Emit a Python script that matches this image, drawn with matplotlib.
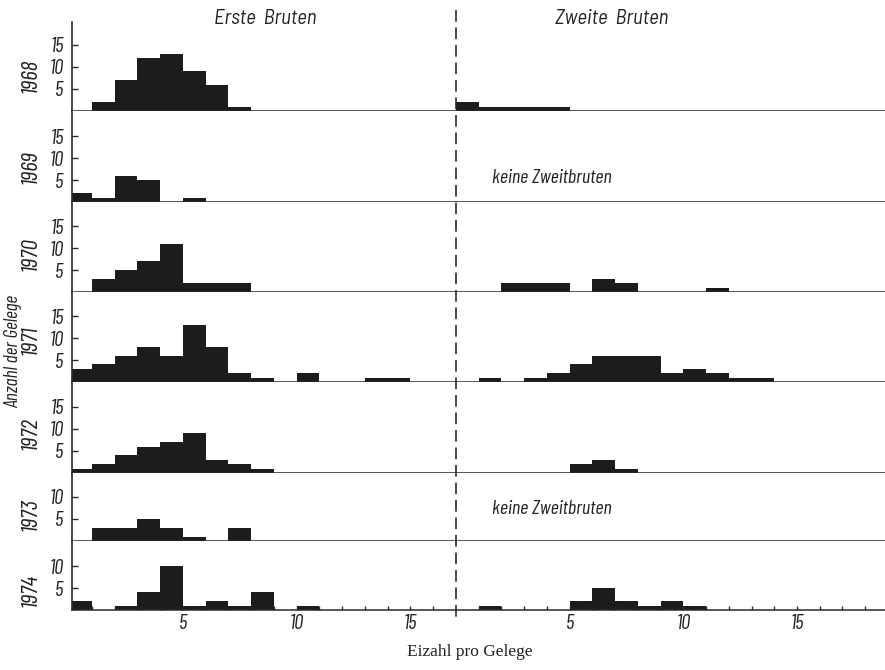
import matplotlib
matplotlib.use("Agg")
import matplotlib.pyplot as plt
from matplotlib.lines import Line2D
from matplotlib.transforms import blended_transform_factory

# Clutch-size distributions (number of clutches per egg count)
years = ["1968", "1969", "1970", "1971", "1972", "1973", "1974"]

first_1968 = [0, 2, 7, 12, 13, 9, 6, 1]
first_1969 = [2, 1, 6, 5, 0, 1]
first_1970 = [0, 3, 5, 7, 11, 2, 2, 2]
first_1971 = [3, 4, 6, 8, 6, 13, 8, 2, 1, 0, 2, 0, 0, 1, 1]
first_1972 = [1, 2, 4, 6, 7, 9, 3, 2, 1]
first_1973 = [0, 3, 3, 5, 3, 1, 0, 3]
first_1974 = [2, 0, 1, 4, 10, 1, 2, 1, 4, 0, 1]

second_1968 = [2, 1, 1, 1, 1]
second_1969 = None
second_1970 = [0, 0, 2, 2, 2, 0, 3, 2, 0, 0, 0, 1]
second_1971 = [0, 1, 0, 1, 2, 4, 6, 6, 6, 2, 3, 2, 1, 1]
second_1972 = [0, 0, 0, 0, 0, 2, 3, 1]
second_1973 = None
second_1974 = [0, 1, 0, 0, 0, 2, 5, 2, 1, 2, 1]

first_broods = [first_1968, first_1969, first_1970, first_1971,
                first_1972, first_1973, first_1974]
second_broods = [second_1968, second_1969, second_1970, second_1971,
                 second_1972, second_1973, second_1974]

x_tick_values = [5, 10, 15]
y_ticks_tall = [5, 10, 15]
y_ticks_short = [5, 10]

SPLIT = 17          # egg-count offset of the second-brood half
XMIN, XMAX = 0.12, 35.87
UNIT_PX = 4.4       # vertical pixels per clutch
row_px = [89, 91, 90, 90, 91, 68, 69]

W, H = 885, 670
fig = plt.figure(figsize=(W / 100, H / 100), dpi=100)
fig.patch.set_facecolor("white")

narrow = ["Barlow Condensed", "Roboto Condensed", "DejaVu Sans"]
semi = ["Barlow Semi Condensed", "Barlow Condensed", "DejaVu Sans"]
serif = ["Liberation Serif", "DejaVu Serif"]
bar_color = "#1c1c1c"
line_color = "#2a2a2a"
text_color = "#222222"

top_px, bottom_px = 22, 610
gs = fig.add_gridspec(len(years), 1, height_ratios=row_px, hspace=0,
                      left=72 / W, right=1.0,
                      top=1 - top_px / H, bottom=1 - bottom_px / H)

# vertical position of the "keine Zweitbruten" note, in clutches
note_y = {1: 5.5, 5: 7.3}
# vertical centre of each year label, in clutches
year_y = [8, 8, 8.5, 9.5, 9, 6, 4.5]

axes = []
for i, year in enumerate(years):
    ax = fig.add_subplot(gs[i])
    axes.append(ax)
    ax.set_xlim(XMIN, XMAX)
    ax.set_ylim(0, row_px[i] / UNIT_PX)

    first = first_broods[i]
    ax.bar(range(len(first)), first, width=1.0, align="edge",
           color=bar_color, linewidth=0)
    second = second_broods[i]
    if second is not None:
        ax.bar([SPLIT + k for k in range(len(second))], second, width=1.0,
               align="edge", color=bar_color, linewidth=0)
    else:
        ax.text(SPLIT + 1.6, note_y[i], "keine Zweitbruten",
                ha="left", va="center", fontsize=14.5, style="italic",
                family=narrow, color=text_color)

    for side in ("top", "right"):
        ax.spines[side].set_visible(False)
    ax.spines["left"].set_color(line_color)
    ax.spines["bottom"].set_color(line_color)
    ax.spines["left"].set_linewidth(1.2)
    ax.spines["bottom"].set_linewidth(1.1)

    yt = y_ticks_short if i >= 5 else y_ticks_tall
    ax.set_yticks(yt)
    ax.set_yticklabels([str(v) for v in yt], fontsize=15, style="italic",
                       family=narrow, color=text_color)
    ax.tick_params(axis="y", direction="in", length=4, width=1,
                   color=line_color, pad=6)

    # year label to the left of the tick labels
    tr = blended_transform_factory(fig.transFigure, ax.transData)
    ax.text(31 / W, year_y[i], year, transform=tr, rotation=90, ha="center",
            va="center", fontsize=17, style="italic", family=narrow,
            color=text_color)

    if i < len(years) - 1:
        ax.set_xticks([])
    else:
        major = x_tick_values + [SPLIT + v for v in x_tick_values]
        ax.set_xticks(major)
        ax.set_xticklabels([str(v) for v in x_tick_values] * 2, fontsize=15,
                           style="italic", family=narrow, color=text_color)
        minor = [v for v in range(1, 36) if v not in major and v != SPLIT]
        ax.set_xticks(minor, minor=True)
        ax.tick_params(axis="x", which="both", direction="in", length=3,
                       width=1, color=line_color, pad=3)

# dashed divider between first and second broods
bottom_ax = axes[-1]
tr_div = blended_transform_factory(bottom_ax.transData, fig.transFigure)
fig.add_artist(Line2D([SPLIT, SPLIT], [1 - 10 / H, 1 - 622 / H],
                      transform=tr_div, color=line_color, linewidth=1.2,
                      dashes=(7, 3.5)))

# headings and axis titles
fig.text(265 / W, 1 - 18 / H, "Erste  Bruten", ha="center", va="center",
         fontsize=15, style="italic", family=semi, color=text_color)
fig.text(612 / W, 1 - 18 / H, "Zweite  Bruten", ha="center", va="center",
         fontsize=15, style="italic", family=semi, color=text_color)
fig.text(13 / W, 1 - 352 / H, "Anzahl der Gelege", rotation=90,
         ha="center", va="center", fontsize=14, style="italic",
         family=narrow, color=text_color)
fig.text(470 / W, 1 - 652 / H, "Eizahl pro Gelege", ha="center",
         va="center", fontsize=12.5, family=serif, color=text_color)

fig.savefig("out.png", dpi=100, facecolor="white")
